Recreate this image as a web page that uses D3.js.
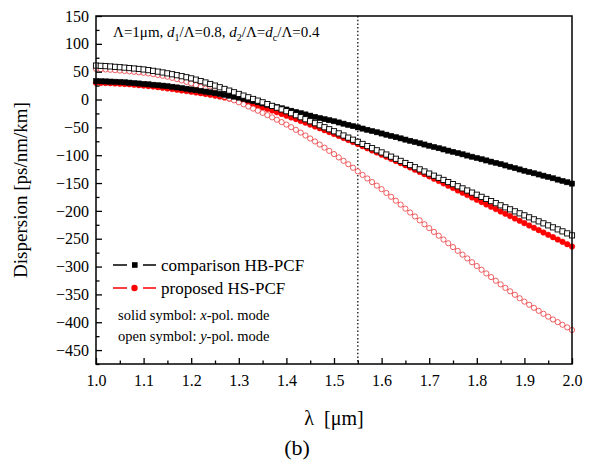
<!DOCTYPE html>
<html lang="en">
<head>
    <meta charset="UTF-8">
    <title>Dispersion</title>
    <script src="https://d3js.org/d3.v7.min.js"></script>
    <style>
        body { margin: 0; background: #fff; }
    </style>
</head>
<body>
<script>

    const width  = 590;
    const height = 466;
    const margin = {top: 16, right: 18, bottom: 102, left: 96};
    const serif = "'Liberation Serif'";

    // wavelength grid (um), step 0.01
    const wavelength = d3.range(0, 101).map(i => +(1 + i / 100).toFixed(2));

    // comparison HB-PCF, x-pol (solid squares)
    const hbX = [
        33.0, 32.8, 32.5, 32.2, 31.9, 31.5, 30.9, 30.3, 29.6, 28.8, 28.0,
        27.3, 26.5, 25.7, 24.9, 24.0, 22.9, 21.7, 20.5, 19.3, 18.0,
        16.8, 15.5, 14.2, 12.9, 11.5, 10.0, 8.5, 6.9, 5.2, 3.5,
        1.4, -0.7, -2.8, -4.9, -7.0, -9.2, -11.4, -13.6, -15.8, -18.0,
        -20.2, -22.4, -24.6, -26.8, -29.0, -31.1, -33.2, -35.2, -37.1, -39.0,
        -41.2, -43.4, -45.6, -47.8, -50.0, -52.2, -54.4, -56.6, -58.8, -61.0,
        -63.2, -65.4, -67.6, -69.8, -72.0, -74.2, -76.4, -78.6, -80.8, -83.0,
        -85.2, -87.4, -89.6, -91.8, -94.0, -96.2, -98.4, -100.6, -102.8, -105.0,
        -107.2, -109.4, -111.6, -113.8, -116.0, -118.4, -120.8, -123.2, -125.6, -128.0,
        -130.2, -132.4, -134.6, -136.8, -139.0, -141.4, -143.8, -146.2, -148.6, -151.0
    ];

    // comparison HB-PCF, y-pol (open squares)
    const hbY = [
        61.0, 60.5, 60.0, 59.4, 58.7, 58.0, 57.3, 56.5, 55.7, 54.9, 54.0,
        52.8, 51.5, 50.1, 48.6, 47.0, 45.4, 43.7, 41.9, 40.0, 38.0,
        35.7, 33.2, 30.6, 27.9, 25.0, 22.0, 19.0, 16.0, 13.0, 10.0,
        7.0, 4.0, 1.0, -2.0, -5.0, -8.2, -11.4, -14.6, -17.8, -21.0,
        -24.6, -28.2, -31.8, -35.4, -39.0, -42.6, -46.2, -49.8, -53.4, -57.0,
        -60.8, -64.6, -68.4, -72.2, -76.0, -79.8, -83.6, -87.4, -91.2, -95.0,
        -98.8, -102.6, -106.4, -110.2, -114.0, -117.8, -121.6, -125.4, -129.2, -133.0,
        -136.8, -140.6, -144.4, -148.2, -152.0, -155.8, -159.6, -163.4, -167.2, -171.0,
        -174.8, -178.6, -182.4, -186.2, -190.0, -193.6, -197.2, -200.8, -204.4, -208.0,
        -211.6, -215.2, -218.8, -222.4, -226.0, -229.6, -233.2, -236.8, -240.4, -244.0
    ];

    // proposed HS-PCF, x-pol (solid circles)
    const hsX = [
        30.0, 29.8, 29.6, 29.3, 28.9, 28.5, 27.9, 27.3, 26.6, 25.8, 25.0,
        24.1, 23.2, 22.2, 21.1, 20.0, 18.8, 17.6, 16.4, 15.2, 14.0,
        12.7, 11.3, 9.9, 8.5, 7.0, 5.3, 3.5, 1.7, -0.1, -2.0,
        -4.2, -6.5, -8.9, -11.4, -14.0, -16.9, -19.8, -22.8, -25.9, -29.0,
        -32.1, -35.2, -38.4, -41.7, -45.0, -48.3, -51.6, -55.0, -58.5, -62.0,
        -65.5, -69.0, -72.6, -76.3, -80.0, -83.8, -87.6, -91.4, -95.2, -99.0,
        -102.8, -106.6, -110.4, -114.2, -118.0, -122.0, -126.0, -130.0, -134.0, -138.0,
        -142.2, -146.4, -150.6, -154.8, -159.0, -163.2, -167.4, -171.6, -175.8, -180.0,
        -184.2, -188.4, -192.6, -196.8, -201.0, -205.2, -209.4, -213.6, -217.8, -222.0,
        -226.2, -230.4, -234.6, -238.8, -243.0, -247.2, -251.4, -255.6, -259.8, -264.0
    ];

    // proposed HS-PCF, y-pol (open circles)
    const hsY = [
        55.0, 54.5, 54.0, 53.4, 52.7, 52.0, 51.3, 50.6, 49.8, 48.9, 48.0,
        46.8, 45.5, 44.1, 42.6, 41.0, 38.9, 36.6, 34.2, 31.7, 29.0,
        25.9, 22.7, 19.4, 16.0, 12.5, 9.0, 5.5, 2.0, -1.5, -5.0,
        -8.7, -12.5, -16.3, -20.1, -24.0, -28.0, -32.1, -36.3, -40.6, -45.0,
        -49.7, -54.5, -59.4, -64.6, -70.0, -75.4, -80.9, -86.5, -92.2, -98.0,
        -104.0, -110.1, -116.2, -122.5, -129.0, -135.4, -141.8, -148.2, -154.6, -161.0,
        -167.8, -174.7, -181.7, -188.8, -196.0, -203.0, -210.0, -217.0, -224.0, -231.0,
        -237.8, -244.6, -251.4, -258.2, -265.0, -271.8, -278.6, -285.4, -292.2, -299.0,
        -305.7, -312.3, -318.9, -325.5, -332.0, -338.3, -344.5, -350.7, -356.9, -363.0,
        -368.6, -374.1, -379.5, -384.8, -390.0, -395.0, -399.8, -404.5, -409.3, -414.0
    ];

    const xTicks = [1.0, 1.1, 1.2, 1.3, 1.4, 1.5, 1.6, 1.7, 1.8, 1.9, 2.0];
    const yTicks = [150, 100, 50, 0, -50, -100, -150, -200, -250, -300, -350, -400, -450];
    const markLambda = 1.55;

    const x = d3.scaleLinear()
            .domain([1.0, 2.0])
            .range([margin.left, width - margin.right]);
    const y = d3.scaleLinear()
            .domain([-475, 150])
            .range([height - margin.bottom, margin.top]);

    const svg = d3.select("body")
            .append("svg")
            .attr("width", width)
            .attr("height", height)
            .style("font-family", serif);

    const x0 = margin.left, x1 = width - margin.right;
    const y0 = height - margin.bottom, y1 = margin.top;

    // vertical dotted marker
    svg.append("line")
            .attr("x1", x(markLambda)).attr("x2", x(markLambda))
            .attr("y1", y1).attr("y2", y0)
            .attr("stroke", "#222")
            .attr("stroke-width", 1.4)
            .attr("stroke-dasharray", "1.5,2.2");

    // series
    const toPts = arr => arr.map((v, i) => [wavelength[i], v]);
    const line = d3.line().x(d => x(d[0])).y(d => y(d[1]));

    const series = [
        {data: hsX, color: "#ff0000", shape: "circle", open: false},
        {data: hsY, color: "#e8393c", shape: "circle", open: true},
        {data: hbX, color: "#000", shape: "square", open: false},
        {data: hbY, color: "#000", shape: "square", open: true}
    ];

    const plot = svg.append("g");

    series.forEach(s => {
        const pts = toPts(s.data);
        plot.append("path")
                .datum(pts)
                .attr("d", line)
                .attr("fill", "none")
                .attr("stroke", s.color)
                .attr("stroke-width", 1);
        const g = plot.append("g");
        if (s.shape === "circle") {
            g.selectAll("circle")
                    .data(pts).enter()
                    .append("circle")
                    .attr("cx", d => x(d[0]))
                    .attr("cy", d => y(d[1]))
                    .attr("r", s.open ? 2.6 : 2.8)
                    .attr("fill", s.open ? "#fff" : s.color)
                    .attr("stroke", s.color)
                    .attr("stroke-width", s.open ? 0.8 : 0.5);
        } else {
            g.selectAll("rect")
                    .data(pts).enter()
                    .append("rect")
                    .attr("x", d => x(d[0]) - 2.6)
                    .attr("y", d => y(d[1]) - 2.6)
                    .attr("width", 5.2)
                    .attr("height", 5.2)
                    .attr("fill", s.open ? "#fff" : s.color)
                    .attr("stroke", s.color)
                    .attr("stroke-width", s.open ? 0.9 : 0.5);
        }
    });

    // frame
    svg.append("rect")
            .attr("x", x0).attr("y", y1)
            .attr("width", x1 - x0).attr("height", y0 - y1)
            .attr("fill", "none")
            .attr("stroke", "#000")
            .attr("stroke-width", 1.5);

    // axes with inward ticks
    const xAxis = d3.axisBottom(x)
            .tickValues(xTicks)
            .tickFormat(d3.format(".1f"))
            .tickSizeInner(-6).tickSizeOuter(0).tickPadding(14);
    const gx = svg.append("g")
            .attr("transform", "translate(0," + y0 + ")")
            .call(xAxis);
    const xMinor = d3.axisBottom(x)
            .tickValues(xTicks.slice(0, -1).map(t => t + 0.05))
            .tickFormat("")
            .tickSizeInner(-3.5).tickSizeOuter(0);
    svg.append("g")
            .attr("transform", "translate(0," + y0 + ")")
            .call(xMinor);

    const yAxis = d3.axisLeft(y)
            .tickValues(yTicks)
            .tickSizeInner(-6).tickSizeOuter(0).tickPadding(14);
    const gy = svg.append("g")
            .attr("transform", "translate(" + x0 + ",0)")
            .call(yAxis);
    const yMinor = d3.axisLeft(y)
            .tickValues(yTicks.map(t => t - 25))
            .tickFormat("")
            .tickSizeInner(-3.5).tickSizeOuter(0);
    svg.append("g")
            .attr("transform", "translate(" + x0 + ",0)")
            .call(yMinor);

    svg.selectAll(".domain").remove();
    svg.selectAll("g").attr("font-family", null);
    svg.selectAll(".tick line").attr("stroke", "#000").attr("stroke-width", 1.3);
    svg.selectAll(".tick text")
            .style("font-family", serif)
            .style("font-size", "16px")
            .attr("fill", "#000");
    gx.selectAll(".tick text").attr("dy", "0.71em").attr("y", 11);
    gy.selectAll(".tick text").attr("x", -7);

    // axis titles
    svg.append("text")
            .attr("transform", "translate(27," + ((y0 + y1) / 2) + ") rotate(-90)")
            .attr("text-anchor", "middle")
            .style("font-family", serif)
            .style("font-size", "19px")
            .text("Dispersion [ps/nm/km]");

    svg.append("text")
            .attr("x", (x0 + x1) / 2)
            .attr("y", 425)
            .attr("text-anchor", "middle")
            .style("font-family", serif)
            .style("font-size", "20px")
            .style("white-space", "pre")
            .text("λ  [μm]");

    svg.append("text")
            .attr("x", 297)
            .attr("y", 455)
            .attr("text-anchor", "middle")
            .style("font-family", serif)
            .style("font-size", "22px")
            .text("(b)");

    // parameter annotation
    const ann = svg.append("text")
            .attr("x", 113)
            .attr("y", 37)
            .style("font-family", serif)
            .style("font-size", "15px");
    ann.append("tspan").text("Λ=1μm, ");
    ann.append("tspan").style("font-style", "italic").text("d");
    ann.append("tspan").attr("dy", 4).style("font-size", "10px").text("1");
    ann.append("tspan").attr("dy", -4).text("/Λ=0.8, ");
    ann.append("tspan").style("font-style", "italic").text("d");
    ann.append("tspan").attr("dy", 4).style("font-size", "10px").text("2");
    ann.append("tspan").attr("dy", -4).text("/Λ=");
    ann.append("tspan").style("font-style", "italic").text("d");
    ann.append("tspan").attr("dy", 4).style("font-size", "10px").text("c");
    ann.append("tspan").attr("dy", -4).text("/Λ=0.4");

    // legend
    const legendRows = [
        {label: "comparison HB-PCF", color: "#000", shape: "square", yy: 265},
        {label: "proposed HS-PCF", color: "#ff0000", shape: "circle", yy: 288}
    ];
    legendRows.forEach(r => {
        const g = svg.append("g");
        g.append("line")
                .attr("x1", 113).attr("x2", 156)
                .attr("y1", r.yy).attr("y2", r.yy)
                .attr("stroke", r.color)
                .attr("stroke-width", 1.6)
                .attr("stroke-dasharray", "14,8,0,8,14");
        if (r.shape === "square") {
            g.append("rect")
                    .attr("x", 132).attr("y", r.yy - 2.8)
                    .attr("width", 5.6).attr("height", 5.6)
                    .attr("fill", r.color);
        } else {
            g.append("circle")
                    .attr("cx", 134.5).attr("cy", r.yy)
                    .attr("r", 3.2)
                    .attr("fill", r.color);
        }
        g.append("text")
                .attr("x", 161)
                .attr("y", r.yy + 6)
                .style("font-family", serif)
                .style("font-size", "17px")
                .text(r.label);
    });

    const note1 = svg.append("text").attr("x", 118).attr("y", 320)
            .style("font-family", serif).style("font-size", "14.5px");
    note1.append("tspan").text("solid symbol: ");
    note1.append("tspan").style("font-style", "italic").text("x");
    note1.append("tspan").text("-pol. mode");

    const note2 = svg.append("text").attr("x", 118).attr("y", 341)
            .style("font-family", serif).style("font-size", "14.5px");
    note2.append("tspan").text("open symbol: ");
    note2.append("tspan").style("font-style", "italic").text("y");
    note2.append("tspan").text("-pol. mode");

</script>
</body>
</html>
